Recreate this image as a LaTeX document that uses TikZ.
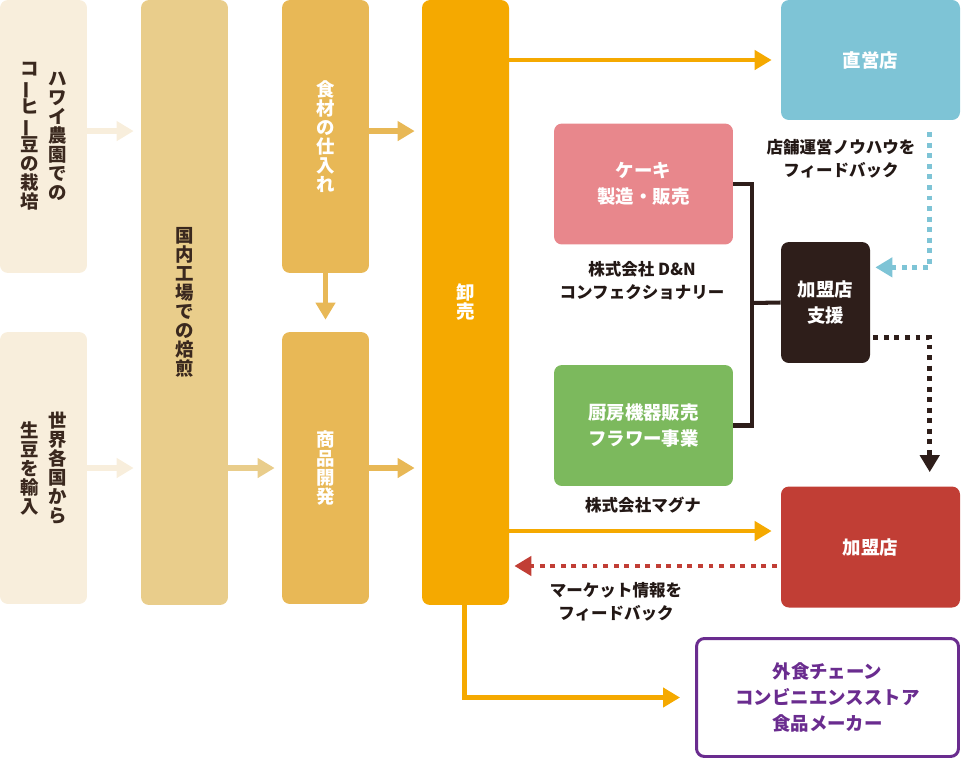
\documentclass[tikz,border=0pt]{standalone}
\usepackage{fontspec}
\setmainfont{Noto Sans CJK JP}
\usepackage{graphicx}
\usetikzlibrary{arrows.meta,calc}
\definecolor{beancream}{HTML}{F8EEDC}
\definecolor{roasttan}{HTML}{E9CD8B}
\definecolor{stockgold}{HTML}{E8B856}
\definecolor{saleorange}{HTML}{F5A900}
\definecolor{shopblue}{HTML}{7EC4D6}
\definecolor{cakepink}{HTML}{E8878C}
\definecolor{flowergreen}{HTML}{7CB95D}
\definecolor{supportdark}{HTML}{2E1E1A}
\definecolor{franred}{HTML}{C13E35}
\definecolor{chainpurple}{HTML}{6A2C8F}
\definecolor{inkbrown}{HTML}{3A281E}
\definecolor{ink}{HTML}{231815}
% vertical (tate) column of characters
\makeatletter
\def\tate@bar{ー}
\newcommand\tate[1]{\ensuremath{\vcenter{\baselineskip=1.03em\lineskiplimit=-1em\lineskip=0pt
  \@tfor\tate@c:=#1\do{\hbox to 1em{\hss\ifx\tate@c\tate@bar\rotatebox[origin=c]{90}{ー}\else\tate@c\fi\hss}}}}}
\makeatother

\begin{document}
\begin{tikzpicture}[x=0.02cm, y=-0.02cm,
      blk/.style={rounded corners=4.5pt, inner sep=0pt, font=\bfseries\fontsize{10.5}{15}\selectfont},
      vcol/.style={blk, minimum width=1.74cm, text=inkbrown},
      wbox/.style={blk, align=center, minimum width=3.58cm, minimum height=2.42cm, text=white},
      note/.style={font=\bfseries\fontsize{9.4}{13}\selectfont, text=ink, align=center},
      tip/.style={-{Triangle[length=0.34cm,width=0.38cm]}},
      larr/.style={tip, line width=3.4pt, shorten >=0.14cm},
      rarr/.style={tip, line width=2.8pt, saleorange, shorten >=0.18cm},
      dotline/.style={tip, line width=2.6pt, dash pattern=on 2.8pt off 3.2pt},
      bracket/.style={line width=2.3pt, supportdark}]
    \useasboundingbox (0,0) rectangle (962,761);

    % supply chain columns
    \node[vcol, fill=beancream, minimum height=5.46cm] (hawaii) at (43.5,136.5) {\tate{コーヒー豆の栽培}\hspace{5.4pt}\tate{ハワイ農園での}};
    \node[vcol, fill=beancream, minimum height=5.44cm] (world) at (43.5,468) {\tate{生豆を輸入}\hspace{5.4pt}\tate{世界各国から}};
    \node[vcol, fill=roasttan, minimum height=12.1cm] (roast) at (184.5,302.5) {\tate{国内工場での焙煎}};
    \node[vcol, fill=stockgold, text=white, minimum height=5.46cm] (stock) at (325.5,136.5) {\tate{食材の仕入れ}};
    \node[vcol, fill=stockgold, text=white, minimum height=5.44cm] (dev) at (325.5,468) {\tate{商品開発}};
    \node[vcol, fill=saleorange, text=white, minimum height=12.1cm] (whole) at (465.5,302.5) {\tate{卸売}};

    % outlets and group companies
    \node[wbox, fill=shopblue, minimum height=2.4cm] (direct) at (870.5,60) {直営店};
    \node[wbox, fill=cakepink] (cake) at (643.5,184) {ケーキ\\製造・販売};
    \node[wbox, fill=flowergreen] (kitchen) at (643.5,425.5) {厨房機器販売\\フラワー事業};
    \node[wbox, fill=supportdark, minimum width=1.78cm] (support) at (825.5,302.5) {加盟店\\支援};
    \node[wbox, fill=franred] (fran) at (870.5,547) {加盟店};
    \node[blk, align=center, draw=chainpurple, line width=1.7pt, text=chainpurple, fill=white,
          minimum width=5.24cm, minimum height=2.36cm] (chain) at (827.5,697.5) {外食チェーン\\コンビニエンスストア\\食品メーカー};

    \node[note] (knowhow) at (841,158.5) {店舗運営ノウハウを\\フィードバック};
    \node[note] (dn) at (642,280.5) {株式会社 D\&N\\コンフェクショナリー};
    \node[note] (magna) at (643,505) {株式会社マグナ};
    \node[note] (market) at (616,601.5) {マーケット情報を\\フィードバック};

    % flows
    \draw[larr, beancream] ([yshift=3.1pt]hawaii.east) -- ([yshift=3.1pt]roast.west |- hawaii.east);
    \draw[larr, beancream] (world.east) -- (roast.west |- world.east);
    \draw[larr, roasttan] (roast.east |- dev.west) -- (dev.west);
    \draw[larr, stockgold] ([yshift=3.1pt]stock.east) -- ([yshift=3.1pt]whole.west |- stock.east);
    \draw[larr, stockgold, line width=2.8pt, shorten >=0.24cm] (stock.south) -- (dev.north);
    \draw[larr, stockgold] (dev.east) -- (whole.west |- dev.east);
    \draw[rarr] (whole.east |- direct.west) -- (direct.west);
    \draw[rarr] ([yshift=9.1pt]whole.east |- fran.west) -- ([yshift=9.1pt]fran.west);
    \draw[rarr, shorten >=0.3cm] ([xshift=-0.8pt]whole.south) |- (chain.west);
    \draw[dotline, franred, shorten >=0.1cm, shorten <=0.08cm] ([yshift=-10.8pt]fran.west) -- ([yshift=-10.8pt]whole.east |- fran.west);

    % support links
    \coordinate (hub) at (752,303);
    \draw[bracket] (cake.east) -| (hub) |- (kitchen.east);
    \draw[bracket] (hub) -- (support.west);
    \draw[dotline, shopblue, shorten >=0.1cm] ([xshift=33.7pt,yshift=-6.8pt]direct.south) |- ([yshift=20pt]support.east);
    \draw[dotline, supportdark, shorten >=0.28cm, shorten <=0.06cm] ([yshift=-20pt]support.east) -| ([xshift=33.7pt]fran.north);
  \end{tikzpicture}
\end{document}
